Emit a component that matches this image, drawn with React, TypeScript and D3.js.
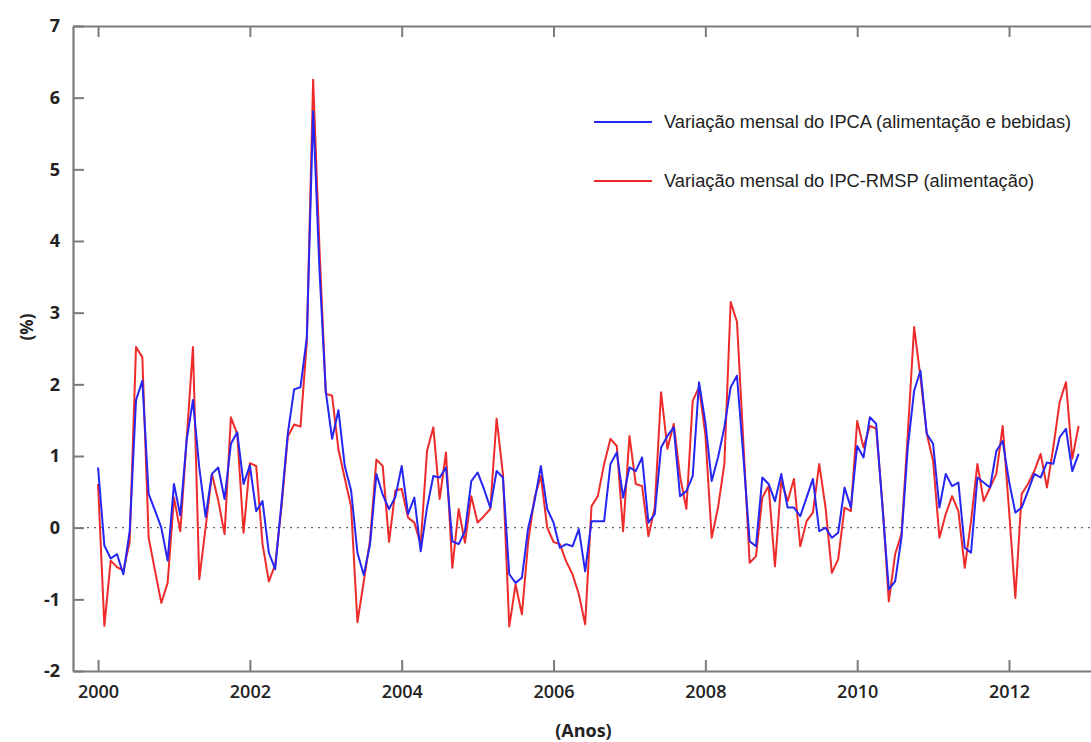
import React, { useRef, useEffect } from 'react'
import * as d3 from 'd3'

// first month of the series (Jan 2000), one value per month
const startYear = 2000
const xTicks = [2000, 2002, 2004, 2006, 2008, 2010, 2012]
const yTicks = [-2, -1, 0, 1, 2, 3, 4, 5, 6, 7]

const seriesNames = [
  'Variação mensal do IPCA (alimentação e bebidas)',
  'Variação mensal do IPC-RMSP (alimentação)',
]

// IPCA - alimentação e bebidas (% a.m.)
const ipca = [
  0.84, -0.25, -0.43, -0.37, -0.65, -0.05, 1.78, 2.05, 0.47, 0.24, 0.0, -0.46,
  0.61, 0.17, 1.22, 1.78, 0.84, 0.15, 0.75, 0.84, 0.4, 1.17, 1.33, 0.61,
  0.87, 0.23, 0.37, -0.35, -0.58, 0.35, 1.32, 1.93, 1.96, 2.65, 5.81, 3.6,
  1.9, 1.24, 1.64, 0.86, 0.52, -0.35, -0.66, -0.23, 0.75, 0.46, 0.26, 0.43,
  0.86, 0.19, 0.42, -0.33, 0.28, 0.72, 0.7, 0.84, -0.19, -0.23, -0.05, 0.65,
  0.77, 0.54, 0.28, 0.79, 0.7, -0.65, -0.77, -0.7, 0.0, 0.37, 0.86, 0.26,
  0.07, -0.28, -0.23, -0.26, -0.02, -0.61, 0.09, 0.09, 0.09, 0.89, 1.05, 0.42,
  0.84, 0.79, 0.98, 0.07, 0.19, 1.12, 1.28, 1.4, 0.44, 0.51, 0.72, 2.03,
  1.47, 0.65, 0.98, 1.4, 1.96, 2.12, 1.0, -0.19, -0.26, 0.7, 0.61, 0.37,
  0.75, 0.28, 0.28, 0.16, 0.42, 0.68, -0.05, 0.0, -0.14, -0.07, 0.56, 0.28,
  1.14, 0.98, 1.54, 1.45, 0.28, -0.86, -0.75, -0.14, 1.12, 1.91, 2.19, 1.31,
  1.17, 0.28, 0.75, 0.58, 0.63, -0.28, -0.35, 0.7, 0.63, 0.56, 1.07, 1.21,
  0.65, 0.21, 0.28, 0.51, 0.75, 0.7, 0.91, 0.89, 1.26, 1.38, 0.79, 1.03,
]

// IPC-RMSP - alimentação (% a.m.)
const ipcRmsp = [
  0.61, -1.37, -0.46, -0.55, -0.6, -0.2, 2.52, 2.38, -0.14, -0.6, -1.05, -0.77,
  0.42, -0.05, 1.22, 2.52, -0.72, 0.0, 0.75, 0.38, -0.09, 1.54, 1.31, -0.07,
  0.9, 0.86, -0.23, -0.75, -0.52, 0.29, 1.27, 1.44, 1.41, 2.59, 6.25, 3.9,
  1.87, 1.84, 1.09, 0.69, 0.29, -1.32, -0.75, -0.17, 0.95, 0.86, -0.2, 0.52,
  0.54, 0.14, 0.07, -0.23, 1.07, 1.4, 0.4, 1.05, -0.56, 0.26, -0.21, 0.44,
  0.07, 0.16, 0.26, 1.52, 0.75, -1.38, -0.79, -1.21, -0.19, 0.42, 0.72, 0.0,
  -0.2, -0.23, -0.47, -0.65, -0.93, -1.35, 0.3, 0.44, 0.89, 1.24, 1.14, -0.05,
  1.28, 0.61, 0.58, -0.12, 0.28, 1.89, 1.1, 1.45, 0.72, 0.26, 1.77, 1.96,
  1.3, -0.14, 0.28, 0.89, 3.15, 2.87, 1.2, -0.49, -0.4, 0.42, 0.58, -0.54,
  0.65, 0.37, 0.68, -0.26, 0.09, 0.21, 0.89, 0.28, -0.63, -0.44, 0.28, 0.23,
  1.49, 1.12, 1.42, 1.38, 0.33, -1.03, -0.37, -0.09, 1.31, 2.8, 2.1, 1.31,
  0.93, -0.14, 0.19, 0.44, 0.23, -0.56, 0.09, 0.89, 0.37, 0.56, 0.75, 1.42,
  0.25, -0.98, 0.47, 0.61, 0.79, 1.03, 0.56, 1.12, 1.75, 2.03, 0.96, 1.42,
]

const colors = ['#2626f2', '#ee2b2b']

const Chart: React.FC = () => {
  const svgRef = useRef<SVGSVGElement | null>(null)

  useEffect(() => {
    const svg = d3.select(svgRef.current)
    svg.selectAll('*').remove()

    const width = 1091
    const height = 742
    const left = 73
    const top = 26
    const bottom = 671

    svg.attr('width', width).attr('height', height)

    // px per year ~75.9, right side of the box is cut by the picture
    const x = d3.scaleLinear().domain([1999.67, 2013.08]).range([left, width])
    const y = d3.scaleLinear().domain([-2, 7]).range([bottom, top])

    const axisColor = '#7a7a7a'
    const font = '"Open Sans", "DejaVu Sans", sans-serif'

    // zero reference line
    svg
      .append('line')
      .attr('x1', left)
      .attr('x2', width)
      .attr('y1', y(0))
      .attr('y2', y(0))
      .attr('stroke', '#666')
      .attr('stroke-width', 1.4)
      .attr('stroke-dasharray', '2,5')

    // series
    const line = d3
      .line<number>()
      .x((_, i) => x(startYear + i / 12))
      .y((d) => y(d))

    ;[ipcRmsp, ipca].forEach((s, k) => {
      svg
        .append('path')
        .datum(s)
        .attr('fill', 'none')
        .attr('stroke', k === 0 ? colors[1] : colors[0])
        .attr('stroke-width', 2)
        .attr('stroke-linejoin', 'round')
        .attr('d', line)
    })

    // left axis, ticks pointing inward
    const gy = svg
      .append('g')
      .attr('transform', `translate(${left},0)`)
      .call(
        d3
          .axisLeft(y)
          .tickValues(yTicks)
          .tickSizeInner(-11)
          .tickSizeOuter(0)
          .tickPadding(13)
          .tickFormat((d) => String(d))
      )
    gy.selectAll('text')
      .attr('font-family', font)
      .attr('font-size', 18)
      .attr('font-weight', 'bold')
      .attr('fill', '#222')

    // bottom axis
    const gx = svg
      .append('g')
      .attr('transform', `translate(0,${bottom})`)
      .call(
        d3
          .axisBottom(x)
          .tickValues(xTicks)
          .tickSizeInner(-11)
          .tickSizeOuter(0)
          .tickPadding(14)
          .tickFormat((d) => String(d))
      )
    gx.selectAll('text')
      .attr('font-family', font)
      .attr('font-size', 18)
      .attr('font-weight', 600)
      .attr('fill', '#222')

    // top border with mirrored ticks
    svg
      .append('g')
      .attr('transform', `translate(0,${top})`)
      .call(d3.axisTop(x).tickValues(xTicks).tickSizeInner(-11).tickSizeOuter(0).tickFormat(() => ''))

    svg.selectAll('.domain').attr('stroke', axisColor).attr('stroke-width', 2.2)
    svg.selectAll('.tick line').attr('stroke', axisColor).attr('stroke-width', 2)

    // axis titles
    svg
      .append('text')
      .attr('x', (x(2006) + x(2008)) / 2 - 46)
      .attr('y', 737)
      .attr('text-anchor', 'middle')
      .attr('font-family', font)
      .attr('font-size', 18)
      .attr('font-weight', 'bold')
      .attr('fill', '#222')
      .text('(Anos)')

    svg
      .append('text')
      .attr('transform', `translate(33,${y(2.8)}) rotate(-90)`)
      .attr('text-anchor', 'middle')
      .attr('font-family', font)
      .attr('font-size', 17)
      .attr('font-weight', 'bold')
      .attr('fill', '#222')
      .text('(%)')

    // legend
    const legend = svg.append('g').attr('transform', 'translate(594,122)')
    seriesNames.forEach((name, i) => {
      const g = legend.append('g').attr('transform', `translate(0,${i * 59})`)
      g.append('line')
        .attr('x1', 0)
        .attr('x2', 58)
        .attr('stroke', colors[i])
        .attr('stroke-width', 2)
      g.append('text')
        .attr('x', 70)
        .attr('dy', '0.35em')
        .attr('font-family', '"Liberation Sans", Arial, sans-serif')
        .attr('font-size', 18.3)
        .attr('fill', '#222')
        .text(name)
    })
  }, [])

  return <svg ref={svgRef} style={{ position: 'absolute', left: 0, top: 0, background: '#fff' }}></svg>
}

export default function App() {
  return <Chart />
}
